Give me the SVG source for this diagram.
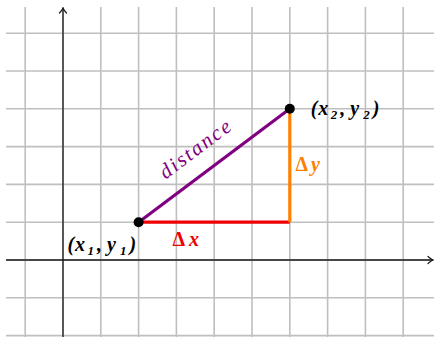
<svg xmlns="http://www.w3.org/2000/svg" width="434" height="337" viewBox="0 0 434 337">
<defs>
<style>
.grid line{stroke:#bfbfbf;stroke-width:1.6}
.axis{stroke:#1a1a1a;stroke-width:1.3;fill:none}
.math{font-family:"Liberation Serif","DejaVu Serif",serif;font-size:20px;font-weight:bold;font-style:italic}
.sub{font-size:13px}
.up{font-style:normal}
.it{font-family:"Liberation Serif","DejaVu Serif",serif;font-size:21px;font-style:italic}
</style>
<marker id="arr" viewBox="-6 -5 8 10" markerWidth="8" markerHeight="10" refX="0" refY="0" orient="auto" markerUnits="userSpaceOnUse">
<path d="M-4.5,-3.5 Q-1.5,-0.8 0.5,0 Q-1.5,0.8 -4.5,3.5" fill="none" stroke="#1a1a1a" stroke-width="1.2" stroke-linecap="round"/>
</marker>
</defs>
<rect width="434" height="337" fill="#fff"/>
<g class="grid" id="grid">
<line x1="25.2" y1="7" x2="25.2" y2="337"/>
<line x1="63" y1="7" x2="63" y2="337"/>
<line x1="100.8" y1="7" x2="100.8" y2="337"/>
<line x1="138.6" y1="7" x2="138.6" y2="337"/>
<line x1="176.4" y1="7" x2="176.4" y2="337"/>
<line x1="214.2" y1="7" x2="214.2" y2="337"/>
<line x1="252" y1="7" x2="252" y2="337"/>
<line x1="289.8" y1="7" x2="289.8" y2="337"/>
<line x1="327.6" y1="7" x2="327.6" y2="337"/>
<line x1="365.4" y1="7" x2="365.4" y2="337"/>
<line x1="403.2" y1="7" x2="403.2" y2="337"/>
<line x1="6" y1="33.2" x2="434" y2="33.2"/>
<line x1="6" y1="71" x2="434" y2="71"/>
<line x1="6" y1="108.8" x2="434" y2="108.8"/>
<line x1="6" y1="146.6" x2="434" y2="146.6"/>
<line x1="6" y1="184.4" x2="434" y2="184.4"/>
<line x1="6" y1="222.2" x2="434" y2="222.2"/>
<line x1="6" y1="260" x2="434" y2="260"/>
<line x1="6" y1="297.8" x2="434" y2="297.8"/>
<line x1="6" y1="335.6" x2="434" y2="335.6"/>
</g>
<g id="axes">
<line class="axis" x1="6" y1="260" x2="432.5" y2="260" marker-end="url(#arr)"/>
<line class="axis" x1="63" y1="337" x2="63" y2="8.5" marker-end="url(#arr)"/>
</g>
<g id="connectors" stroke-width="3.2" stroke-linecap="butt">
<line id="dx" x1="138.6" y1="222.2" x2="289.8" y2="222.2" stroke="#ee0000"/>
<line id="dy" x1="289.8" y1="222.2" x2="289.8" y2="108.8" stroke="#ff8000"/>
<line id="dist" x1="138.6" y1="222.2" x2="289.8" y2="108.8" stroke="#800080"/>
</g>
<g id="p1">
<circle cx="138.6" cy="222.2" r="5" fill="#000"/>
<text class="math" y="250.5"><tspan x="67.5">(</tspan><tspan x="75">x</tspan><tspan class="sub" x="87.5" dy="4">1</tspan><tspan x="97" dy="-4">,</tspan><tspan x="107">y</tspan><tspan class="sub" x="120" dy="4">1</tspan><tspan x="129.5" dy="-4">)</tspan></text>
</g>
<g id="p2">
<circle cx="289.8" cy="108.8" r="5" fill="#000"/>
<text class="math" y="114.8"><tspan x="310.7">(</tspan><tspan x="318.2">x</tspan><tspan class="sub" x="330.7" dy="4">2</tspan><tspan x="340.2" dy="-4">,</tspan><tspan x="350.2">y</tspan><tspan class="sub" x="363.2" dy="4">2</tspan><tspan x="372.7" dy="-4">)</tspan></text>
</g>
<g id="label-dx">
<text class="math" y="245.7" fill="#ee0000"><tspan class="up" x="172.5">Δ</tspan><tspan x="189">x</tspan></text>
</g>
<g id="label-dy">
<text class="math" y="170.7" fill="#ff8000"><tspan class="up" x="295.5">Δ</tspan><tspan x="311">y</tspan></text>
</g>
<g id="label-distance">
<text class="it" x="0" y="0" transform="translate(199,154.5) rotate(-36.87)" text-anchor="middle" textLength="84" fill="#800080">distance</text>
</g>
</svg>
